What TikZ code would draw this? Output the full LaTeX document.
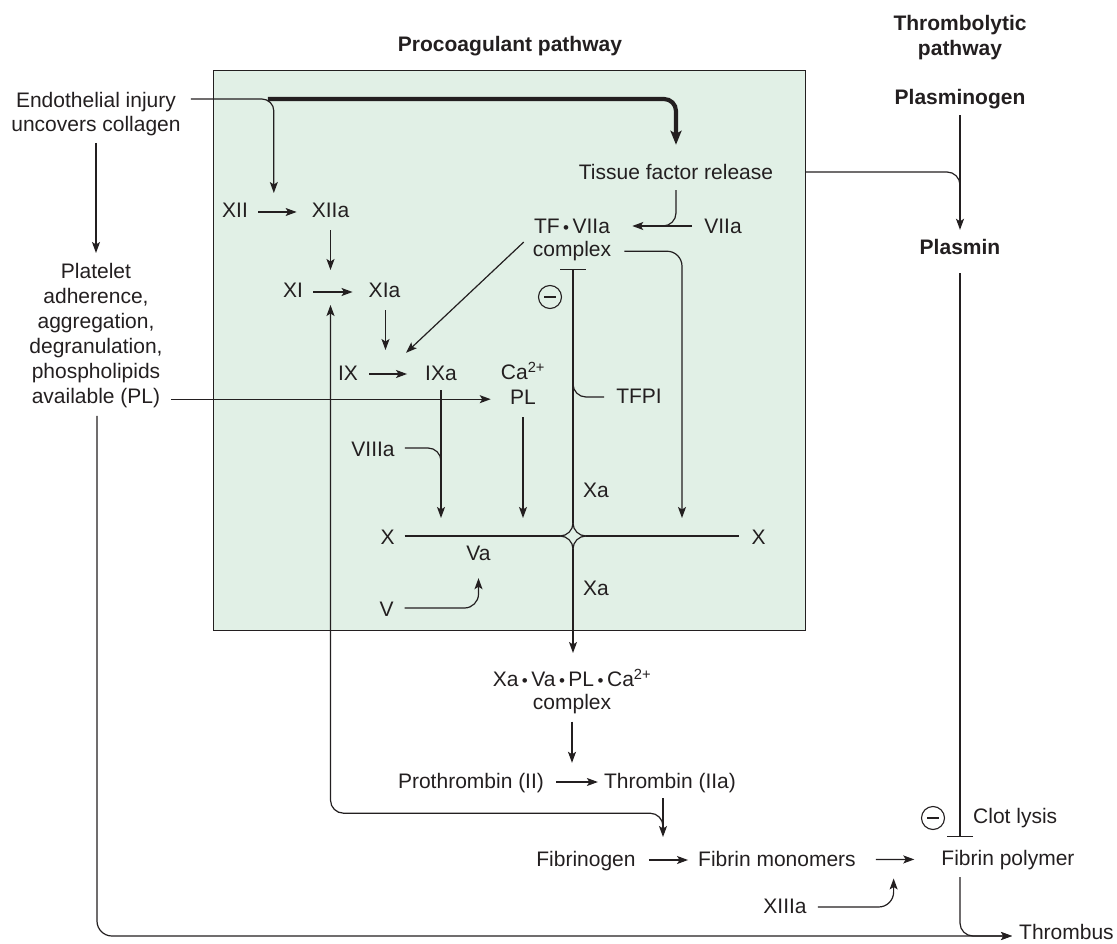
\documentclass[tikz,border=0pt]{standalone}
\usepackage{fontspec}
\setmainfont{Liberation Sans}
\usetikzlibrary{arrows.meta,calc}
\definecolor{boxfill}{HTML}{E1F0E6}
\definecolor{ink}{HTML}{231F20}
\newcommand{\mybul}{\hspace{3.5pt}{\fontsize{17}{17}\selectfont •}\hspace{3.5pt}}
\begin{document}
\begin{tikzpicture}[x=1pt,y=-1pt,
  every node/.style={font=\fontsize{21}{25}\selectfont, text=ink, inner sep=0pt},
  lbl/.style={anchor=base, text height=15pt, text depth=3pt},
  mlbl/.style={anchor=north, align=center},
  bold/.style={font=\fontsize{21}{25}\selectfont\bfseries},
  conn/.style={draw=ink, line width=1.2pt},
  arr/.style={conn, -{Stealth[length=11pt,width=8pt,inset=2.5pt]}},
  thickarr/.style={draw=ink, line width=4.2pt, -{Stealth[length=14pt,width=11pt,inset=3pt]}},
  inh/.style={conn, -{Bar[width=26pt]}},
  minus/.style={circle, draw=ink, line width=1.1pt, minimum size=23pt, inner sep=0pt}
]
\useasboundingbox (0,0) rectangle (1117,944);
\node[draw=ink, line width=1.2pt, fill=boxfill, anchor=north west, minimum width=592pt, minimum height=560pt] (box) at (213,70) {};

% titles
\node[bold, lbl] (proc) at (510,52) {Procoagulant pathway};
\node[bold, mlbl] (thromb) at (960,15) {Thrombolytic\\pathway};
\node[bold, lbl] (plg) at (960,105) {Plasminogen};
\node[bold, lbl] (plm) at (960,255) {Plasmin};

% left column
\node[mlbl] (endo) at (96,92) {Endothelial injury\\[-1pt]uncovers collagen};
\node[mlbl] (plat) at (96,263) {Platelet\\adherence,\\aggregation,\\degranulation,\\phospholipids\\available (PL)};

% box contents
\node[lbl] (xii) at (235,218) {XII};
\node[lbl] (xiia) at (330.5,218) {XIIa};
\node[lbl] (xi) at (293,298) {XI};
\node[lbl] (xia) at (384.5,298) {XIa};
\node[lbl] (ix) at (348,380) {IX};
\node[lbl] (ixa) at (441,380) {IXa};
\node[mlbl] (ca) at (523,362) {Ca\textsuperscript{2+}\\PL};
\node[lbl] (tfr) at (676,180) {Tissue factor release};
\node[mlbl] (tf) at (572,219) {TF\mybul VIIa\\[-2pt]complex};
\node[lbl] (viia) at (723,234) {VIIa};
\node[lbl] (tfpi) at (639,403) {TFPI};
\node[lbl] (viiia) at (373,456) {VIIIa};
\node[lbl] (xa1) at (596,497) {Xa};
\node[lbl] (xa2) at (596,595) {Xa};
\node[lbl] (xl) at (387.5,544) {X};
\node[lbl] (xr) at (758.5,544) {X};
\node[lbl] (va) at (478.5,560) {Va};
\node[lbl] (v) at (386.5,616) {V};
\node[minus] (m1) at (550,297) {\rule{12pt}{1.3pt}};

% lower part
\node[mlbl] (xcomp) at (572,669) {Xa\mybul Va\mybul PL\mybul Ca\textsuperscript{2+}\\[-2pt]complex};
\node[lbl] (proth) at (471,788) {Prothrombin (II)};
\node[lbl] (thr) at (670,788) {Thrombin (IIa)};
\node[lbl] (fgen) at (586,866) {Fibrinogen};
\node[lbl] (fmon) at (777,866) {Fibrin monomers};
\node[lbl] (fpol) at (1008,865) {Fibrin polymer};
\node[lbl, anchor=base west] (clot) at (973,823) {Clot lysis};
\node[minus] (m2) at (933,818) {\rule{12pt}{1.3pt}};
\node[lbl] (xiiia) at (785,913) {XIIIa};
\node[anchor=base west, text height=6pt, text depth=0pt] (thrombus) at (1019,939) {Thrombus};

% reaction arrows
\draw[arr, shorten <=10pt, shorten >=15pt] (xii) -- coordinate (r1) (xiia);
\draw[arr, shorten <=10pt, shorten >=16pt] (xi) -- coordinate (r2) (xia);
\draw[arr, shorten <=11pt, shorten >=18pt] (ix) -- coordinate (r3) (ixa);
\draw[arr, shorten <=12pt, shorten >=6pt] (proth) -- (thr);
\draw[arr, shorten <=13pt, shorten >=10pt] (fgen) -- coordinate (r6) (fmon);
\draw[arr, shorten <=20pt, shorten >=27pt] (fmon) -- coordinate (r7) (fpol);

% endothelial injury
\coordinate (inj) at ($(endo.north east)+(10,7)$);
\draw[arr, rounded corners=12pt] (inj) -| ($(r1)+(-6,-19)$);
\draw[thickarr, rounded corners=12pt] ($(inj)+(77,0)$) -| ($(tfr.north)+(0,-20)$);
\draw[arr] ($(endo.south)+(0,7)$) -- ($(plat.north)+(0,-10)$);

% platelets
\draw[arr] ($(plat.east |- ca.south)+(8,-6)$) -- ($(ca.south west)+(-10,-6)$);
\draw[arr, rounded corners=15pt] ($(plat.south)+(1,8)$) |- ($(thrombus.west)+(-7,0)$);

% cascade
\draw[arr] ($(xiia.south)+(0,9)$) -- ($(xiia.south |- r2)+(0,-22)$);
\draw[arr] ($(xia.south)+(1,9)$) -- ($(xia.south |- r3)+(1,-24)$);
\draw[arr] ($(tf.west)+(-9,2)$) -- ($(ixa.north west)+(-19,-12)$);

% tissue factor
\draw[conn, rounded corners=13pt] ($(tfr.south)+(0,7)$) |- ($(viia.west)+(-41,-2)$);
\draw[arr] ($(viia.west)+(-12,-2)$) -- ($(tf.east |- viia.west)+(21,-2)$);
\coordinate (cx) at ($(tf.south |- xl)+(1,-2)$);
\draw[arr, rounded corners=15pt] ($(tf.south east)+(13,-10)$) -| ($(cx)+(109,-18)$);
\draw[inh] ($(cx)+(0,-13)$) -- ($(tf.south)+(1,8)$);
\draw[conn, rounded corners=13pt] ($(tfpi.west)+(-12,0)$) -- (tfpi.west -| cx) -- ($(tfpi.west -| cx)+(0,-13)$);

% X line with crossing
\draw[conn] ($(xl.east)+(10,-2)$) -- ($(cx)+(-13,0)$);
\draw[conn] ($(cx)+(13,0)$) -- ($(xr.west)+(-12,-2)$);
\draw[conn, rounded corners=13pt] ($(cx)+(-13,0)$) -- (cx) -- ($(cx)+(0,-13)$);
\draw[conn, rounded corners=13pt] ($(cx)+(0,-13)$) -- (cx) -- ($(cx)+(13,0)$);
\draw[conn, rounded corners=13pt] ($(cx)+(13,0)$) -- (cx) -- ($(cx)+(0,13)$);
\draw[conn, rounded corners=13pt] ($(cx)+(0,13)$) -- (cx) -- ($(cx)+(-13,0)$);
\draw[arr] ($(cx)+(0,13)$) -- ($(xcomp.north)+(1,-16)$);

\draw[arr] ($(ixa.south)+(0,7)$) -- ($(ixa.south |- cx)+(0,-18)$);
\draw[arr] ($(ca.south)+(0,12)$) -- ($(ca.south |- cx)+(0,-18)$);
\draw[conn, rounded corners=13pt] ($(viiia.east)+(10,-2)$) -| ($(ixa.south |- viiia.east)+(0,16)$);
\draw[arr, rounded corners=14pt] ($(v.east)+(11,-2)$) -| ($(va.south)+(0,15)$);

% thrombin
\draw[arr] ($(xcomp.south)+(0,7)$) -- ($(xcomp.south |- proth.north)+(0,-10)$);
\draw[arr] ($(thr.south)+(-7,7)$) -- ($(thr.south |- r6)+(-7,-23)$);
\draw[arr, rounded corners=13pt] ($(thr.south)+(-7,35)$) -- ($(thr.south)+(-7,22)$) -| ($(xiia.south |- r2)+(0,13)$);
\draw[arr, rounded corners=15pt] ($(xiiia.east)+(11,0)$) -| ($(r7)+(-5,19)$);

% thrombolytic
\draw[arr] ($(plg.south)+(0,7)$) -- ($(plm.north)+(0,-10)$);
\draw[conn, rounded corners=13pt] ($(box.east |- tfr)+(0,-2)$) -- ($(plg.south |- tfr)+(0,-2)$) -- ($(plg.south |- tfr)+(0,11)$);
\draw[inh] ($(plm.south)+(0,15)$) -- ($(plm.south |- fpol.north)+(0,-13)$);
\draw[arr, rounded corners=13pt] ($(plm.south |- fpol.south)+(0,9)$) |- ($(thrombus.west)+(-7,0)$);
\end{tikzpicture}
\end{document}
